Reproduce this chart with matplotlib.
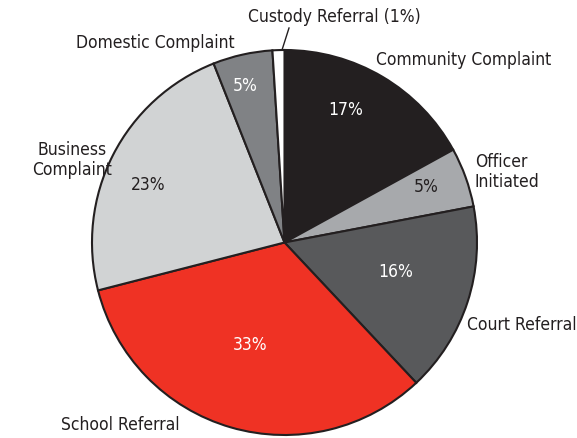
import matplotlib
matplotlib.use('Agg')
import matplotlib.pyplot as plt

plt.rcParams['font.family'] = ['DejaVu Sans']
plt.rcParams['font.stretch'] = 'condensed'

# data
labels = ['Community Complaint', 'Officer\nInitiated', 'Court Referral', 'School Referral',
          'Business\nComplaint', 'Domestic Complaint', 'Custody Referral (1%)']
shares = [17, 5, 16, 33, 23, 5, 1]
colors = ['#231f20', '#a7a9ac', '#58595b', '#ef3224', '#d1d3d4', '#808285', '#ffffff']
pct_colors = ['white', '#231f20', 'white', 'white', '#231f20', 'white', None]

W, H = 577, 438
fig = plt.figure(figsize=(W / 100, H / 100), dpi=100)
ax = fig.add_axes([0, 0, 1, 1])

cx, cy, r = 284.5, H - 242.5, 192.5
wedges, _ = ax.pie(shares, colors=colors, startangle=90, counterclock=False,
                   center=(cx, cy), radius=r, frame=True,
                   wedgeprops=dict(edgecolor='#231f20', linewidth=1.5))
ax.set_xlim(0, W)
ax.set_ylim(0, H)
ax.set_aspect('equal')
ax.axis('off')

txt = '#231f20'
fs = 12.5

# percent labels inside slices (image coords)
pct_pos = [(346, 110), (426, 187), (396, 272), (250, 345), (148, 185), (245, 86)]
for (x, y), s, c in zip(pct_pos, shares, pct_colors):
    ax.text(x, H - y, '%d%%' % s, color=c, fontsize=fs, ha='center', va='center')

# category labels outside
ax.text(464, H - 60, labels[0], color=txt, fontsize=fs, ha='center', va='center')
ax.text(475, H - 172, labels[1], color=txt, fontsize=fs, ha='left', va='center',
        linespacing=1.1)
ax.text(522, H - 325, labels[2], color=txt, fontsize=fs, ha='center', va='center')
ax.text(120, H - 425, labels[3], color=txt, fontsize=fs, ha='center', va='center')
ax.text(72, H - 160, labels[4], color=txt, fontsize=fs, ha='center', va='center',
        linespacing=1.1)
ax.text(155, H - 43, labels[5], color=txt, fontsize=fs, ha='center', va='center')
ax.text(334, H - 17, labels[6], color=txt, fontsize=fs, ha='center', va='center')
ax.plot([282, 289], [H - 50, H - 28], color=txt, lw=1)

fig.savefig('out.png', dpi=100)
